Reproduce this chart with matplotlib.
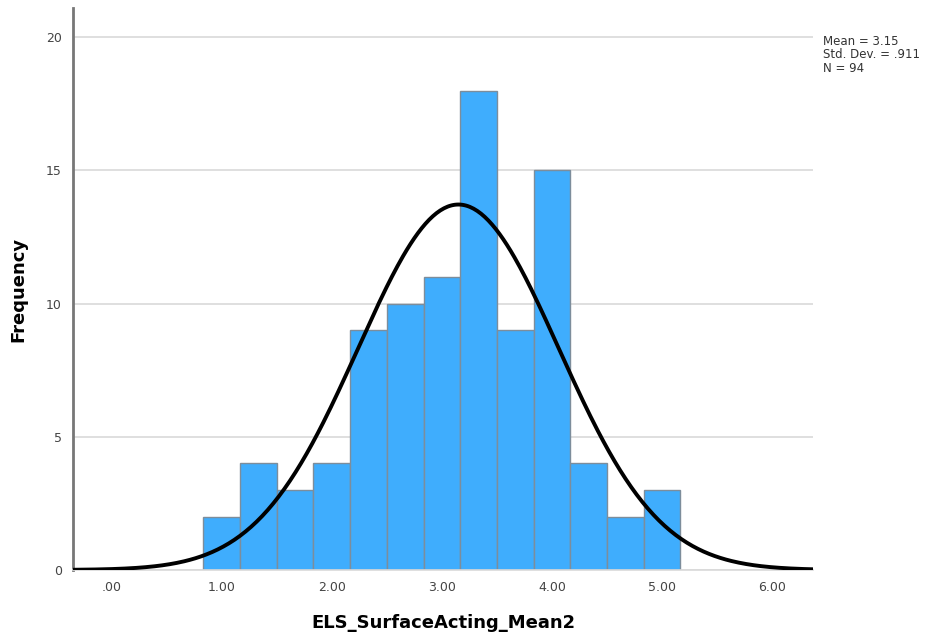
import numpy as np
import matplotlib.pyplot as plt

# histogram counts, bins centred on 1.00, 1.33, ... 5.00
bin_centers = [1.0 + i / 3 for i in range(13)]
counts = [2, 4, 3, 4, 9, 10, 11, 18, 9, 15, 4, 2, 3]
x_ticks = [0, 1, 2, 3, 4, 5, 6]
x_tick_labels = ['.00', '1.00', '2.00', '3.00', '4.00', '5.00', '6.00']
y_ticks = [0, 5, 10, 15, 20]

mean = 3.15
sd = 0.911
n = 94
width = 1 / 3

fig = plt.figure(figsize=(9.38, 6.39), dpi=100)
ax = fig.add_axes([73 / 938, 1 - 570 / 639, (813 - 73) / 938, (570 - 8) / 639])

ax.bar(bin_centers, counts, width=width, color='#3fadfd',
       edgecolor='#7d8d9b', linewidth=1.0, zorder=2)

# normal curve scaled to the counts
xs = np.linspace(-0.35, 6.37, 400)
ys = n * width * np.exp(-0.5 * ((xs - mean) / sd) ** 2) / (sd * np.sqrt(2 * np.pi))
ax.plot(xs, ys, color='black', linewidth=2.8, zorder=3, solid_capstyle='butt')

ax.set_xlim(-0.35, 6.37)
ax.set_ylim(0, 21.1)
ax.set_xticks(x_ticks)
ax.set_xticklabels(x_tick_labels)
ax.set_yticks(y_ticks)
ax.tick_params(length=0, labelsize=9, colors='#444444', pad=8)
ax.yaxis.grid(True, color='#d9d9d9', linewidth=1.2, zorder=0)
ax.set_axisbelow(True)

for side in ['top', 'right']:
    ax.spines[side].set_visible(False)
ax.spines['left'].set_color('#777777')
ax.spines['left'].set_linewidth(2)
ax.spines['bottom'].set_color('#d9d9d9')
ax.spines['bottom'].set_linewidth(1.2)

ax.set_xlabel('ELS_SurfaceActing_Mean2', fontsize=13, fontweight='bold', labelpad=14)
ax.set_ylabel('Frequency', fontsize=13, fontweight='bold')
ax.yaxis.set_label_coords(-0.062, 0.5)

fig.text(823 / 938, 1 - 35 / 639, 'Mean = 3.15\nStd. Dev. = .911\nN = 94',
         fontsize=8.5, color='#333333', va='top', ha='left', linespacing=1.05)

fig.savefig('out.png', dpi=100)
